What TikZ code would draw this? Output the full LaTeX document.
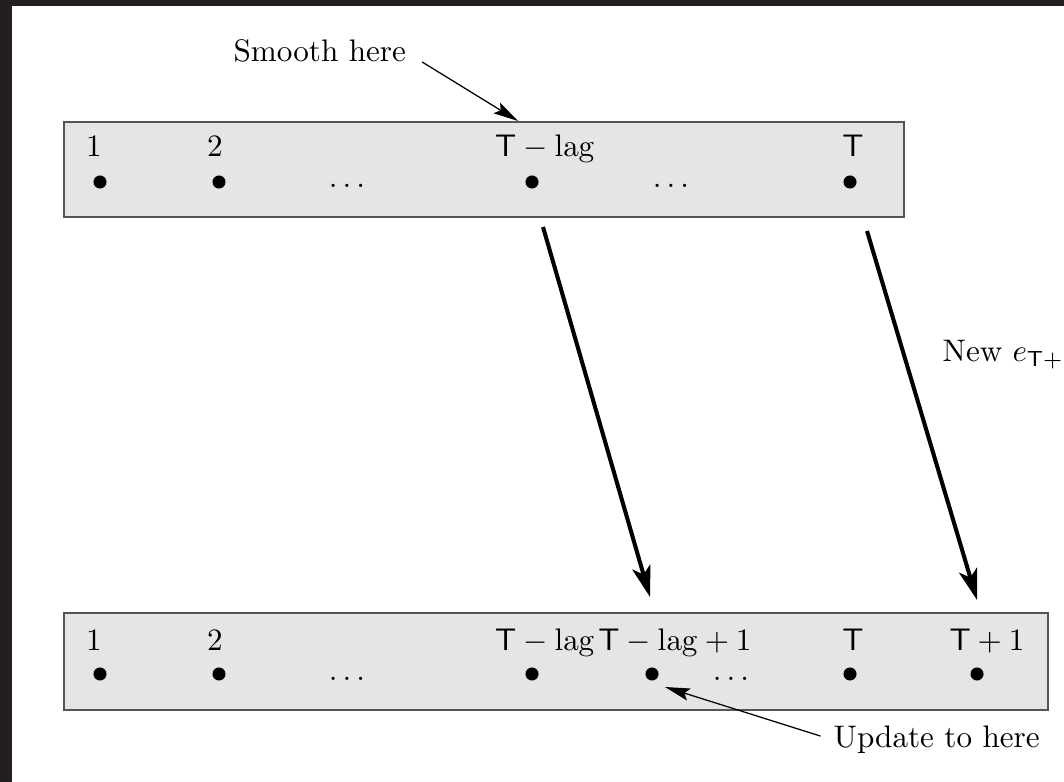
\documentclass[tikz,border=0pt]{standalone}
\usetikzlibrary{arrows.meta}

\definecolor{framedark}{HTML}{231F20}
\definecolor{boxgray}{HTML}{E5E5E5}
\definecolor{boxline}{HTML}{555555}

\newcommand{\tT}{\mathsf{T}}

\tikzset{
  tdot/.style={circle, fill, inner sep=0pt, minimum size=4.2pt},
  lbl/.style={anchor=base, inner sep=0pt},
  txt/.style={inner sep=0pt},
  panel/.style={draw=boxline, fill=boxgray, line width=0.5pt},
  bigarrow/.style={-{Stealth[length=10pt,width=6pt,inset=2.5pt]}, line width=1.3pt},
  note/.style={-{Stealth[length=8pt,width=4pt,inset=1.5pt]}, line width=0.4pt}
}

\begin{document}
\begin{tikzpicture}[x=1.128cm, y=-1.128cm]
  \clip (0,0) rectangle (10.64,7.82);
  \fill[framedark] (0,0) rectangle (10.64,7.82);
  \fill[white] (0.12,0.06) rectangle (10.64,7.82);

  % time line before the new observation
  \draw[panel] (0.64,1.22) rectangle (9.04,2.17);
  \node[lbl] (a1) at (0.94,1.57) {$1$};
  \node[lbl] (a2) at (2.15,1.57) {$2$};
  \node[lbl] (alag) at (5.45,1.57) {$\tT-\mathrm{lag}$};
  \node[lbl] (aT) at (8.53,1.57) {$\tT$};
  \node[tdot] (p1) at (1.00,1.82) {};
  \node[tdot] (p2) at (2.19,1.82) {};
  \node[tdot] (plag) at (5.32,1.82) {};
  \node[tdot] (pT) at (8.50,1.82) {};
  \node[lbl] (ad1) at (3.47,1.88) {$\ldots$};
  \node[lbl] (ad2) at (6.71,1.88) {$\ldots$};

  % time line after the new observation
  \draw[panel] (0.64,6.13) rectangle (10.48,7.10);
  \node[lbl] (b1) at (0.94,6.50) {$1$};
  \node[lbl] (b2) at (2.15,6.50) {$2$};
  \node[lbl] (blag) at (5.45,6.50) {$\tT-\mathrm{lag}$};
  \node[lbl] (blag1) at (6.75,6.50) {$\tT-\mathrm{lag}+1$};
  \node[lbl] (bT) at (8.53,6.50) {$\tT$};
  \node[lbl] (bT1) at (9.87,6.50) {$\tT+1$};
  \node[tdot] (q1) at (1.00,6.74) {};
  \node[tdot] (q2) at (2.19,6.74) {};
  \node[tdot] (qlag) at (5.32,6.74) {};
  \node[tdot] (qlag1) at (6.52,6.74) {};
  \node[tdot] (qT) at (8.50,6.74) {};
  \node[tdot] (qT1) at (9.77,6.74) {};
  \node[lbl] (bd1) at (3.47,6.80) {$\ldots$};
  \node[lbl] (bd2) at (7.31,6.80) {$\ldots$};

  % notes
  \node[txt, anchor=base west] (smooth) at (2.33,0.62) {Smooth here};
  \node[txt, anchor=base west] (update) at (8.33,7.47) {Update to here};
  \node[txt, anchor=base west] (newobs) at (9.42,3.62) {New $e_{\tT+1}$};
  \coordinate (here1) at (5.18,1.21);
  \coordinate (here2) at (6.65,6.87);
  \draw[note] ([xshift=5pt]smooth.base east) -- (here1);
  \draw[note] ([shift={(-4pt,1pt)}]update.west) -- (here2);

  % shift of the window
  \coordinate (s1) at (5.43,2.27);
  \coordinate (e1) at (6.50,5.97);
  \coordinate (s2) at (8.67,2.31);
  \coordinate (e2) at (9.77,6.00);
  \draw[bigarrow] (s1) -- (e1);
  \draw[bigarrow] (s2) -- (e2);
\end{tikzpicture}
\end{document}
